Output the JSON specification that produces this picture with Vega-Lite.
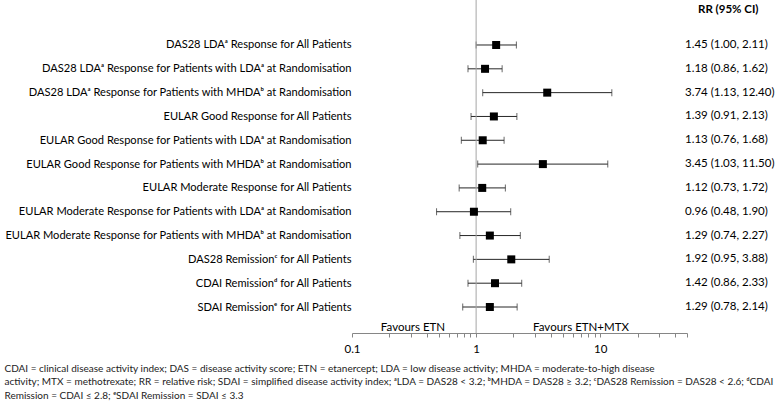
{
  "$schema": "https://vega.github.io/schema/vega-lite/v6.json",
  "width": 335,
  "height": 333,
  "autosize": {"type": "none"},
  "padding": {"left": 352, "top": 0, "right": 90, "bottom": 68},
  "background": "white",
  "config": {"view": {"stroke": null}, "font": "Lato"},
  "title": {
    "text": [
      "CDAI = clinical disease activity index; DAS = disease activity score; ETN = etanercept; LDA = low disease activity; MHDA = moderate-to-high disease",
      "activity; MTX = methotrexate; RR = relative risk; SDAI = simplified disease activity index; ᵃLDA = DAS28 < 3.2; ᵇMHDA = DAS28 ≥ 3.2; ᶜDAS28 Remission = DAS28 < 2.6; ᵈCDAI",
      "Remission = CDAI ≤ 2.8; ᵉSDAI Remission = SDAI ≤ 3.3"
    ],
    "orient": "bottom",
    "anchor": "start",
    "frame": "bounds",
    "font": "Lato",
    "fontSize": 10,
    "fontWeight": "normal",
    "color": "#222222",
    "lineHeight": 13.7,
    "offset": 9
  },
  "data": {
    "values": [
      {"label": "", "rr": "RR (95% CI)", "est": null, "lo": null, "hi": null},
      {"label": "DAS28 LDAᵃ Response for All Patients", "rr": "1.45 (1.00, 2.11)", "est": 1.45, "lo": 1.00, "hi": 2.11},
      {"label": "DAS28 LDAᵃ Response for Patients with LDAᵃ at Randomisation", "rr": "1.18 (0.86, 1.62)", "est": 1.18, "lo": 0.86, "hi": 1.62},
      {"label": "DAS28 LDAᵃ Response for Patients with MHDAᵇ at Randomisation", "rr": "3.74 (1.13, 12.40)", "est": 3.74, "lo": 1.13, "hi": 12.40},
      {"label": "EULAR Good Response for All Patients", "rr": "1.39 (0.91, 2.13)", "est": 1.39, "lo": 0.91, "hi": 2.13},
      {"label": "EULAR Good Response for Patients with LDAᵃ at Randomisation", "rr": "1.13 (0.76, 1.68)", "est": 1.13, "lo": 0.76, "hi": 1.68},
      {"label": "EULAR Good Response for Patients with MHDAᵇ at Randomisation", "rr": "3.45 (1.03, 11.50)", "est": 3.45, "lo": 1.03, "hi": 11.50},
      {"label": "EULAR Moderate Response for All Patients", "rr": "1.12 (0.73, 1.72)", "est": 1.12, "lo": 0.73, "hi": 1.72},
      {"label": "EULAR Moderate Response for Patients with LDAᵃ at Randomisation", "rr": "0.96 (0.48, 1.90)", "est": 0.96, "lo": 0.48, "hi": 1.90},
      {"label": "EULAR Moderate Response for Patients with MHDAᵇ at Randomisation", "rr": "1.29 (0.74, 2.27)", "est": 1.29, "lo": 0.74, "hi": 2.27},
      {"label": "DAS28 Remissionᶜ for All Patients", "rr": "1.92 (0.95, 3.88)", "est": 1.92, "lo": 0.95, "hi": 3.88},
      {"label": "CDAI Remissionᵈ for All Patients", "rr": "1.42 (0.86, 2.33)", "est": 1.42, "lo": 0.86, "hi": 2.33},
      {"label": "SDAI Remissionᵉ for All Patients", "rr": "1.29 (0.78, 2.14)", "est": 1.29, "lo": 0.78, "hi": 2.14}
    ]
  },
  "encoding": {
    "y": {
      "field": "label",
      "type": "nominal",
      "sort": null,
      "scale": {
        "type": "point",
        "padding": 0.99,
        "align": 0.449,
        "domain": [
          "",
          "DAS28 LDAᵃ Response for All Patients",
          "DAS28 LDAᵃ Response for Patients with LDAᵃ at Randomisation",
          "DAS28 LDAᵃ Response for Patients with MHDAᵇ at Randomisation",
          "EULAR Good Response for All Patients",
          "EULAR Good Response for Patients with LDAᵃ at Randomisation",
          "EULAR Good Response for Patients with MHDAᵇ at Randomisation",
          "EULAR Moderate Response for All Patients",
          "EULAR Moderate Response for Patients with LDAᵃ at Randomisation",
          "EULAR Moderate Response for Patients with MHDAᵇ at Randomisation",
          "DAS28 Remissionᶜ for All Patients",
          "CDAI Remissionᵈ for All Patients",
          "SDAI Remissionᵉ for All Patients"
        ]
      },
      "axis": {
        "title": null,
        "domain": false,
        "ticks": false,
        "tickSize": 0,
        "labelPadding": 1,
        "labelFont": "Lato",
        "labelFontSize": 11.1,
        "labelLimit": 0,
        "labelColor": "#000000"
      }
    }
  },
  "layer": [
    {
      "mark": {"type": "rule", "color": "#262626", "strokeWidth": 1},
      "encoding": {
        "x": {
          "field": "lo",
          "type": "quantitative",
          "scale": {"type": "log", "domain": [0.1, 50], "nice": false},
          "axis": {
            "values": [0.1, 0.2, 0.3, 0.4, 0.5, 0.6, 0.7, 0.8, 0.9, 1, 2, 3, 4, 5, 6, 7, 8, 9, 10, 20, 30, 40, 50],
            "labelExpr": "datum.value == 0.1 ? '0.1' : datum.value == 1 ? '1' : datum.value == 10 ? '10' : ''",
            "labelOverlap": false,
            "labelFlush": false,
            "title": null,
            "grid": false,
            "tickSize": 4,
            "tickColor": "#868686",
            "domainColor": "#868686",
            "labelFont": "Lato",
            "labelFontSize": 11.5,
            "labelColor": "#000000",
            "labelPadding": 6
          }
        },
        "x2": {"field": "hi"}
      }
    },
    {
      "mark": {"type": "tick", "color": "#262626", "size": 7, "thickness": 1},
      "encoding": {"x": {"field": "lo", "type": "quantitative"}}
    },
    {
      "mark": {"type": "tick", "color": "#262626", "size": 7, "thickness": 1},
      "encoding": {"x": {"field": "hi", "type": "quantitative"}}
    },
    {
      "data": {"values": [{"ref": 1}]},
      "mark": {"type": "rule", "color": "#a6a6a6", "strokeWidth": 1},
      "encoding": {"x": {"field": "ref", "type": "quantitative"}, "y": null}
    },
    {
      "mark": {"type": "square", "size": 64, "filled": true, "color": "#000000", "opacity": 1},
      "encoding": {"x": {"field": "est", "type": "quantitative"}}
    },
    {
      "transform": [{"filter": "datum.est != null"}],
      "mark": {"type": "text", "align": "left", "baseline": "middle", "dx": -2, "fontSize": 11.5, "font": "Lato", "color": "#000000"},
      "encoding": {"x": {"datum": 50}, "text": {"field": "rr"}}
    },
    {
      "transform": [{"filter": "datum.est == null"}],
      "mark": {"type": "text", "align": "left", "baseline": "middle", "dx": 11, "dy": -11, "fontSize": 11.5, "font": "Lato", "fontWeight": "bold", "color": "#000000"},
      "encoding": {"x": {"datum": 50}, "text": {"field": "rr"}}
    },
    {
      "data": {"values": [{"side": "Favours ETN", "pos": 0.31}, {"side": "Favours ETN+MTX", "pos": 7}]},
      "mark": {"type": "text", "align": "center", "baseline": "bottom", "dy": 0, "fontSize": 11.5, "font": "Lato", "color": "#000000"},
      "encoding": {"x": {"field": "pos", "type": "quantitative"}, "y": {"value": "height"}, "text": {"field": "side"}}
    }
  ]
}
